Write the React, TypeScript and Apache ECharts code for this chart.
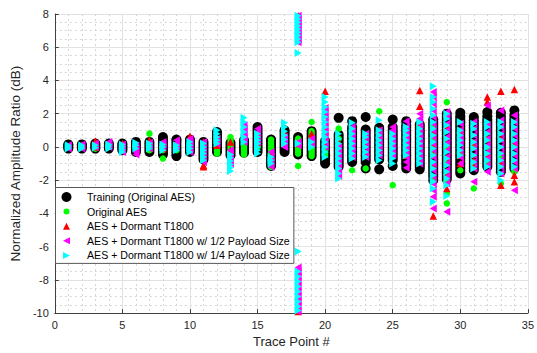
import React, { useEffect, useRef } from "react";
import * as echarts from "echarts";

const tracePoints = [1, 2, 3, 4, 5, 6, 7, 8, 9, 10, 11, 12, 13, 14, 15, 16, 17, 18, 19, 20, 21, 22, 23, 24, 25, 26, 27, 28, 29, 30, 31, 32, 33, 34];

const seriesNames = [
  "Training (Original AES)",
  "Original AES",
  "AES + Dormant T1800",
  "AES + Dormant T1800 w/ 1/2 Payload Size",
  "AES + Dormant T1800 w/ 1/4 Payload Size",
];

// Training (Original AES) – black circles, values per trace point
const training: number[][] = [
  [-0.1, 0, 0.1, 0.15],
  [-0.1, 0, 0.1, 0.15],
  [-0.1, 0, 0.1, 0.2],
  [-0.1, 0, 0.1, 0.2],
  [-0.2, -0.1, 0, 0.1, 0.2],
  [-0.3, -0.15, 0, 0.15, 0.3],
  [-0.3, -0.15, 0, 0.15, 0.3],
  [-0.45, -0.3, -0.15, 0, 0.15, 0.3, 0.45, 0.6],
  [-0.55, -0.4, -0.25, -0.1, 0.05, 0.2, 0.35, 0.45],
  [-0.3, -0.15, 0, 0.15, 0.3, 0.45],
  [-0.75, -0.6, -0.45, -0.3, -0.15, 0, 0.15, 0.3],
  [-0.3, -0.15, 0, 0.15, 0.3, 0.45, 0.6, 0.75, 0.9],
  [-0.5, -0.35, -0.2, -0.05, 0.1, 0.25],
  [-0.35, -0.2, -0.05, 0.1, 0.25, 0.4],
  [-0.3, -0.15, 0, 0.15, 0.3, 0.45, 0.6, 0.75, 0.9, 1.05, 1.2],
  [-1.15, -1.0, -0.85, -0.7, -0.55, -0.4, -0.25, -0.1, 0.05, 0.2, 0.35, 0.45],
  [-0.3, -0.15, 0, 0.15, 0.3, 0.45, 0.6, 0.75, 0.9, 1.0],
  [-0.45, -0.3, -0.15, 0, 0.15, 0.3, 0.45, 0.6],
  [-0.55, -0.4, -0.25, -0.1, 0.05, 0.2, 0.35, 0.5, 0.65, 0.8, 0.95],
  [-1.0, -0.85, -0.7, -0.55, -0.4, -0.25, -0.1, 0.05, 0.2, 0.35],
  [-1.2, -1.05, -0.9, -0.75, -0.6, -0.45, -0.3, -0.15, 0, 0.15, 0.3, 0.45, 0.6, 0.75, 1.75],
  [-0.9, -0.75, -0.6, -0.45, -0.3, -0.15, 0, 0.15, 0.3, 0.45, 0.6, 0.75, 0.9, 1.05, 1.2, 1.55],
  [-1.3, -0.9, -0.75, -0.6, -0.45, -0.3, -0.15, 0, 0.15, 0.3, 0.45, 0.6, 0.75, 0.9, 1.05, 1.8],
  [-1.35, -0.75, -0.6, -0.45, -0.3, -0.15, 0, 0.15, 0.3, 0.45, 0.6, 0.75, 0.9, 1.05, 1.15],
  [-1.15, -0.8, -0.65, -0.5, -0.35, -0.2, -0.05, 0.1, 0.25, 0.4, 0.55, 0.7, 0.85, 1.0, 1.2, 1.65],
  [-1.3, -1.1, -0.95, -0.8, -0.65, -0.5, -0.35, -0.2, -0.05, 0.1, 0.25, 0.4, 0.55, 0.7, 0.85, 1.0, 1.15, 1.3, 1.55],
  [-1.35, -1.2, -1.05, -0.9, -0.75, -0.6, -0.45, -0.3, -0.15, 0, 0.15, 0.3, 0.45, 0.6, 0.75, 0.9, 1.05, 1.2, 1.35],
  [-2.0, -1.8, -1.65, -1.5, -1.35, -1.2, -1.05, -0.9, -0.75, -0.6, -0.45, -0.3, -0.15, 0, 0.15, 0.3, 0.45, 0.6, 0.75, 0.9, 1.05, 1.2, 1.35, 1.5, 1.65],
  [-1.95, -1.8, -1.65, -1.5, -1.35, -1.2, -1.05, -0.9, -0.75, -0.6, -0.45, -0.3, -0.15, 0, 0.15, 0.3, 0.45, 0.6, 0.75, 0.9, 1.05, 1.2, 1.35, 1.5, 1.65, 1.8, 2.0],
  [-1.6, -1.45, -1.3, -1.15, -1.0, -0.85, -0.7, -0.55, -0.4, -0.25, -0.1, 0.05, 0.2, 0.35, 0.5, 0.65, 0.8, 0.95, 1.1, 1.25, 1.4, 1.55, 1.7, 1.85, 2.05],
  [-1.4, -1.25, -1.1, -0.95, -0.8, -0.65, -0.5, -0.35, -0.2, -0.05, 0.1, 0.25, 0.4, 0.55, 0.7, 0.85, 1.0, 1.15, 1.3, 1.45, 1.6, 1.8],
  [-1.2, -1.05, -0.9, -0.75, -0.6, -0.45, -0.3, -0.15, 0, 0.15, 0.3, 0.45, 0.6, 0.75, 0.9, 1.05, 1.2, 1.35, 1.5, 1.65, 1.85, 2.1],
  [-1.5, -1.35, -1.2, -1.05, -0.9, -0.75, -0.6, -0.45, -0.3, -0.15, 0, 0.15, 0.3, 0.45, 0.6, 0.75, 0.9, 1.05, 1.2, 1.35, 1.5, 1.65, 1.85, 2.05],
  [-1.3, -1.15, -1.0, -0.85, -0.7, -0.55, -0.4, -0.25, -0.1, 0.05, 0.2, 0.35, 0.5, 0.65, 0.8, 0.95, 1.1, 1.25, 1.4, 1.55, 1.7, 1.9, 2.2],
];

// Original AES – green circles
const originalAES: number[][] = [
  [0], [0], [-0.1, 0], [0], [0], [0],
  [-0.2, 0, 0.2, 0.8],
  [-0.7, -0.2, 0, 0.2],
  [-0.2, -0.05],
  [0, 0.1],
  [-0.2, 0],
  [-0.4, -0.2, 0, 0.2],
  [-0.45, -0.3, -0.15, 0, 0.15, 0.3, 0.45, 0.6],
  [-0.45, -0.3, -0.15, 0, 0.15, 0.3, 0.45, 0.6],
  [0, 0.2],
  [-1.2, -1.05, -0.9, -0.75, -0.6, -0.45, -0.3, -0.15, 0, 0.15, 0.3, 0.45],
  [0.1, 0.3],
  [-1.15, -0.4, -0.25, -0.1, 0.05, 0.2, 0.35, 0.5],
  [-0.55, -0.4, -0.25, -0.1, 0.05, 0.2, 0.35, 0.5, 0.65, 0.8, 0.95, 1.5],
  [-0.5, -0.35, -0.2, -0.05, 0.1, 0.25, 0.4, 0.55, 0.7, 0.85, 1.0],
  [-0.3, 0.5, 1.1],
  [-1.4, -0.6, 0.2],
  [-1.3, 0.3],
  [-0.2, 0.3, 2.15],
  [-2.3, 0, 0.5],
  [-0.5, 0.3],
  [-0.5, 0.8, 1.2],
  [-2.0, -1.0, -0.3, 0.5, 1.2],
  [-3.4, -2.8, -2.1, -1.0, 0, 1.0, 2.7],
  [-1.4, -0.5, 0.5],
  [-2.5, -1.0, 0],
  [-1.0, 0, 0.5],
  [-2.2, -0.5],
  [-1.5, 0],
];

// AES + Dormant T1800 – red up-triangles
const dormant: number[][] = [
  [0.05], [0.1], [0, 0.35], [0.1], [0.2], [0.1],
  [0.1, 0.4],
  [-0.1, 0.2],
  [0.2],
  [0.1, 0.4, 0.65],
  [-1.2, -1.1, 0, 0.3],
  [0.1, 0.5],
  [-0.2, 0.3],
  [0.4, 0.9],
  [0.3, 0.6],
  [-0.5],
  [0.6, 0.9],
  [-9.9, -9.0, -7.5, 0.2, 6.5, 7.0, 7.9],
  [0.3, 0.8],
  [0.2, 1.0, 2.0, 3.35],
  [-1.7, -1.0, 0.3],
  [-0.3, 0.5, 1.0],
  [-0.3, 0.2, 0.5],
  [0, 0.5, 1.0],
  [-0.2, 0.5],
  [-0.5, 0, 0.3, 0.8],
  [-0.5, 0.5, 1.5, 2.45, 3.4],
  [-4.15, -1.2, -0.5, 0.2, 1.0],
  [-2.5, -1.5, -0.6, 0.3, 1.2],
  [-1.0, -0.5, 0.5, 1.0],
  [-1.2, -0.8, 0.3],
  [-0.5, 0.5, 2.7, 3.0],
  [-2.3, -1.0, 0.5, 3.35],
  [-2.1, -1.7, 0.3, 3.45],
];

// AES + Dormant T1800 w/ 1/2 Payload Size – magenta left-triangles
const halfPayload: number[][] = [
  [-0.1, 0, 0.1],
  [-0.1, 0.05, 0.15],
  [0, 0.2],
  [0, 0.15, 0.3],
  [-0.3, -0.15, 0, 0.15],
  [-0.45, -0.3, -0.1, 0.05],
  [-0.1, 0.1, 0.25],
  [0, 0.15, 0.3],
  [0, 0.2, 0.4],
  [-0.3, -0.1, 0.1, 0.3, 0.5],
  [-0.9, -0.7, -0.5, -0.3, -0.1, 0.1, 0.3],
  [0.2, 0.5],
  [-1.0, -0.8, -0.5, -0.2],
  [0.3, 0.5, 0.7, 0.9, 1.1, 1.3],
  [0.3, 0.5, 0.7, 0.9, 1.1],
  [-1.2, -0.9, -0.6, -0.3],
  [0, 0.2, 0.4, 0.6],
  [-9.9, -9.6, -9.3, -9.0, -8.7, -8.4, -8.1, -7.8, -7.5, -7.25, 0.1, 0.3, 6.3, 6.5, 6.7, 6.9, 7.1, 7.3, 7.5, 7.7, 7.9],
  [0.2, 0.5],
  [0, 0.3, 0.6, 0.9, 1.2, 1.5, 1.8, 2.1, 2.35],
  [-1.75, -1.5, -1.2, -0.9, -0.6, -0.3, 0],
  [-0.6, -0.3, 0, 0.3, 0.6, 0.9, 1.2],
  [-0.6, -0.3, 0, 0.3, 0.6, 0.8],
  [-0.5, -0.2, 0.1, 0.4, 0.7, 1.0],
  [-0.5, -0.2, 0.1, 0.4, 0.7, 1.0, 1.2],
  [-1.25, -0.9, -0.6, -0.3, 0, 0.3, 0.6, 0.9, 1.2, 1.55],
  [-1.0, -0.7, -0.4, -0.1, 0.2, 0.5, 0.8, 1.1, 1.4, 1.7, 2.0],
  [-3.7, -3.0, -2.6, -2.2, -1.8, -1.4, -1.0, -0.6, -0.2, 0.2, 0.6, 1.0, 1.4, 1.8, 2.2, 2.6, 3.0, 3.3],
  [-3.9, -2.2, -1.8, -1.4, -1.0, -0.6, -0.2, 0.2, 0.6, 1.0, 1.4, 1.8, 2.1],
  [-1.0, -0.6, -0.2, 0.2, 0.6, 1.0, 1.4],
  [-2.1, -1.3, -0.9, -0.5, -0.1, 0.3, 0.7, 1.1, 1.5],
  [-1.5, -1.1, -0.7, -0.3, 0.1, 0.5, 0.9, 1.3, 2.5],
  [-1.6, -1.2, -0.8, -0.4, 0, 0.4, 0.8, 1.2, 1.6, 2.2],
  [-2.6, -1.3, -0.9, -0.5, -0.1, 0.3, 0.7, 1.1, 1.5, 1.9],
];

// AES + Dormant T1800 w/ 1/4 Payload Size – cyan right-triangles
const quarterPayload: number[][] = [
  [-0.1, 0, 0.1],
  [-0.1, 0, 0.1],
  [-0.05, 0.1],
  [-0.1, 0.05, 0.15],
  [-0.3, -0.15, 0, 0.15],
  [-0.1, 0.1, 0.25],
  [-0.1, 0.05, 0.2],
  [-0.2, 0, 0.15],
  [-0.2, -0.05, 0.1],
  [-0.3, -0.1, 0.1, 0.3],
  [-0.8, -0.6, -0.4, -0.2, 0, 0.2],
  [0.2, 0.4, 0.6, 0.8, 1.0],
  [-1.45, -1.25, -1.05, -0.85, -0.65, -0.45],
  [0.3, 0.6, 0.9, 1.2, 1.5, 1.75],
  [-0.4, -0.2, 0, 0.2, 0.4, 0.6, 0.8],
  [-1.0, -0.8, -0.6],
  [0.2, 0.45, 0.7, 0.95, 1.2, 1.45],
  [-9.85, -9.6, -9.3, -9.0, -8.7, -8.4, -8.1, -7.8, -7.5, -6.3, 0.2, 5.65, 6.3, 6.5, 6.7, 6.9, 7.1, 7.3, 7.5, 7.7, 7.9],
  [0, 0.3],
  [-0.6, -0.3, 0, 0.3, 0.6, 0.9, 1.2, 1.5, 1.8, 2.1, 2.4, 2.7, 3.0],
  [-1.9, -1.6, -1.3, -1.0, -0.7, -0.4, -0.1, 0.2, 0.5, 0.8],
  [-0.7, -0.4, -0.1, 0.2, 0.5, 0.8, 1.1, 1.45],
  [-0.6, -0.3, 0, 0.3, 0.6, 0.8],
  [-0.8, -0.5, -0.2, 0.1, 0.4, 0.7, 1.0, 1.6],
  [-1.0, -0.7, -0.4, -0.1, 0.2, 0.5, 0.8],
  [-0.5, -0.2, 0.1, 0.4, 0.7, 1.0, 1.2],
  [-1.0, -0.7, -0.4, -0.1, 0.2, 0.5, 0.8, 1.1, 1.5],
  [-3.3, -2.5, -2.1, -1.7, -1.3, -0.9, -0.5, -0.1, 0.3, 0.7, 1.1, 1.5, 1.9, 2.3, 2.7, 3.0, 3.65],
  [-2.95, -2.3, -1.9, -1.5, -1.1, -0.7, -0.3, 0.1, 0.5, 0.9, 1.3, 1.7, 2.0],
  [-0.5, -0.2, 0.1, 0.4, 0.7, 1.0, 1.5],
  [-1.3, -0.9, -0.5, -0.1, 0.3, 0.7, 1.1, 1.4],
  [-1.2, -0.8, -0.4, 0, 0.4, 0.8, 1.2, 1.5],
  [-2.0, -1.6, -1.2, -0.8, -0.4, 0, 0.4, 0.8, 1.2, 1.5],
  [-1.2, -0.8, -0.4, 0, 0.4, 0.8, 1.2, 1.5],
];

const FONT = "'Liberation Sans', Arial, Helvetica, sans-serif";
const TEXT = "#262626";

const LEFT_TRI = "path://M10,0 L0,5 L10,10 Z";
const RIGHT_TRI = "path://M0,0 L10,5 L0,10 Z";
const PAD = "M0,0h0.01v0.01h-0.01Z M10,10h0.01v0.01h-0.01Z ";
const LEG_GREEN = "path://" + PAD + "M2,5a3,3 0 1 0 6,0a3,3 0 1 0 -6,0Z";
const LEG_UP = "path://" + PAD + "M5,1.5L8.5,8.5L1.5,8.5Z";
const LEG_LEFT = "path://" + PAD + "M8.5,1.5L1.5,5L8.5,8.5Z";
const LEG_RIGHT = "path://" + PAD + "M1.5,1.5L8.5,5L1.5,8.5Z";

function toPoints(vals: number[][]) {
  const out: number[][] = [];
  vals.forEach((ys, i) => ys.forEach((y) => out.push([tracePoints[i], y])));
  return out;
}

const majorGrid = { show: true, lineStyle: { color: "#e2e2e2", width: 1 } };
const minorGrid = { show: true, lineStyle: { color: "#d6d6d6", width: 1, type: [2, 3] } };

export default function App() {
  const ref = useRef<HTMLDivElement>(null);
  useEffect(() => {
    if (!ref.current) return;
    const chart = echarts.init(ref.current, null, { renderer: "svg" });
    chart.setOption({
      animation: false,
      backgroundColor: "#ffffff",
      grid: { left: 51, right: 7, top: 14, bottom: 34 },
      xAxis: {
        type: "value",
        min: 0,
        max: 35,
        interval: 5,
        name: "Trace Point #",
        nameLocation: "middle",
        nameGap: 21,
        nameTextStyle: { fontFamily: FONT, fontSize: 13, color: TEXT },
        axisLine: { show: true, onZero: false, lineStyle: { color: "#404040", width: 1 } },
        axisTick: { show: true, inside: true, length: 4, lineStyle: { color: "#404040" } },
        axisLabel: { fontFamily: FONT, fontSize: 11, color: TEXT, margin: 6 },
        splitLine: majorGrid,
        minorTick: { show: false, splitNumber: 5 },
        minorSplitLine: minorGrid,
      },
      yAxis: {
        type: "value",
        min: -10,
        max: 8,
        interval: 2,
        name: "Normalized Amplitude Ratio (dB)",
        nameLocation: "middle",
        nameRotate: 90,
        nameGap: 26,
        nameTextStyle: { fontFamily: FONT, fontSize: 13.5, color: TEXT },
        axisLine: { show: true, onZero: false, lineStyle: { color: "#404040", width: 1 } },
        axisTick: { show: true, inside: true, length: 4, lineStyle: { color: "#404040" } },
        axisLabel: { fontFamily: FONT, fontSize: 11, color: TEXT, margin: 6 },
        splitLine: majorGrid,
        minorTick: { show: false, splitNumber: 4 },
        minorSplitLine: minorGrid,
      },
      legend: {
        orient: "vertical",
        left: 55.5,
        top: 187.5,
        backgroundColor: "#ffffff",
        borderColor: "#595959",
        borderWidth: 1,
        borderRadius: 0,
        padding: [3.5, 4, 2, 6],
        itemGap: 2.6,
        itemWidth: 31,
        itemHeight: 10,
        selectedMode: false,
        textStyle: { fontFamily: FONT, fontSize: 10.6, color: "#000", lineHeight: 12 },
        data: [
          { name: seriesNames[0], icon: "circle" },
          { name: seriesNames[1], icon: LEG_GREEN },
          { name: seriesNames[2], icon: LEG_UP },
          { name: seriesNames[3], icon: LEG_LEFT },
          { name: seriesNames[4], icon: LEG_RIGHT },
        ],
      },
      series: [
        {
          name: seriesNames[0],
          type: "scatter",
          symbol: "circle",
          symbolSize: 10,
          itemStyle: { color: "#000000", opacity: 1 },
          data: toPoints(training),
        },
        {
          name: seriesNames[1],
          type: "scatter",
          symbol: "circle",
          symbolSize: 6.5,
          itemStyle: { color: "#00ff00", opacity: 1 },
          data: toPoints(originalAES),
        },
        {
          name: seriesNames[2],
          type: "scatter",
          symbol: "triangle",
          symbolSize: 7.5,
          itemStyle: { color: "#ff0000", opacity: 1 },
          data: toPoints(dormant),
        },
        {
          name: seriesNames[3],
          type: "scatter",
          symbol: LEFT_TRI,
          symbolSize: [7, 8],
          itemStyle: { color: "#ff00ff", opacity: 1 },
          data: toPoints(halfPayload),
        },
        {
          name: seriesNames[4],
          type: "scatter",
          symbol: RIGHT_TRI,
          symbolSize: [7, 8],
          itemStyle: { color: "#00ffff", opacity: 1 },
          data: toPoints(quarterPayload),
        },
      ],
    });
    return () => chart.dispose();
  }, []);
  return (
    <div
      ref={ref}
      style={{ position: "fixed", left: 0, top: 0, width: 537, height: 353, background: "#ffffff" }}
    />
  );
}
